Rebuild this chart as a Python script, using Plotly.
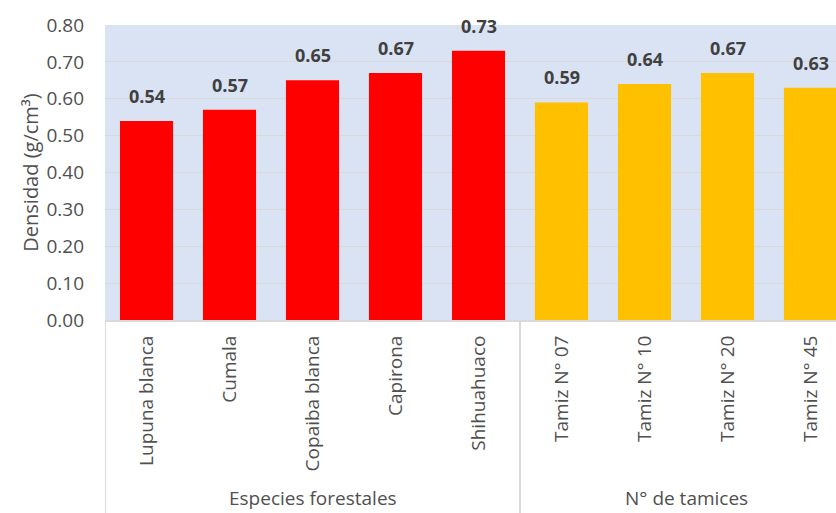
import plotly.graph_objects as go

categories = ["Lupuna blanca", "Cumala", "Copaiba blanca", "Capirona", "Shihuahuaco",
              "Tamiz N° 07", "Tamiz N° 10", "Tamiz N° 20", "Tamiz N° 45"]
values = [0.54, 0.57, 0.65, 0.67, 0.73, 0.59, 0.64, 0.67, 0.63]
groups = ["Especies forestales"] * 5 + ["N° de tamices"] * 4
group_names = ["Especies forestales", "N° de tamices"]
group_colors = {"Especies forestales": "#FF0000", "N° de tamices": "#FFC000"}
y_ticks = [0.0, 0.1, 0.2, 0.3, 0.4, 0.5, 0.6, 0.7, 0.8]
y_title = "Densidad (g/cm³)"

FONT = "Open Sans, Liberation Sans, sans-serif"
TXT = "#505050"
W, H = 836, 513
ML, MT, MB = 105, 25, 193
PH = H - MT - MB

colors = [group_colors[g] for g in groups]

fig = go.Figure()
fig.add_trace(go.Bar(
    x=list(range(len(categories))), y=values,
    marker=dict(color=colors, line=dict(width=0)),
    hoverinfo="skip",
))

# value labels
for i, v in enumerate(values):
    fig.add_annotation(x=i, y=v, xref="x", yref="y", text=f"{v:.2f}",
                       showarrow=False, yanchor="bottom", yshift=11,
                       font=dict(family=FONT, size=18, color="#404040", weight="bold"))

# group labels and separators
n = len(categories)
start = 0
bounds = [-0.5]
for g in group_names:
    cnt = groups.count(g)
    center = start + (cnt - 1) / 2
    fig.add_annotation(x=center, y=(-(498 - (MT + PH))) / PH, xref="x", yref="paper",
                       text=g, showarrow=False, yanchor="middle",
                       font=dict(family=FONT, size=19, color=TXT))
    start += cnt
    bounds.append(start - 0.5)
for b in bounds:
    fig.add_shape(type="line", xref="x", yref="paper", x0=b, x1=b, y0=0, y1=-MB / PH,
                  line=dict(color="#D9D9D9", width=2))

n_visible_right = (W - ML) / 83.0 - 0.5
fig.update_layout(
    width=W, height=H,
    margin=dict(l=ML, r=0, t=MT, b=MB, pad=0),
    paper_bgcolor="white", plot_bgcolor="#DAE3F3",
    bargap=0.36, showlegend=False,
    font=dict(family=FONT, size=20, color=TXT),
)
fig.update_xaxes(
    tickmode="array", tickvals=list(range(n)), ticktext=categories,
    tickangle=-90, range=[-0.5, n_visible_right],
    showline=True, linecolor="#D9D9D9", linewidth=2,
    showgrid=False, ticks="", ticklabelstandoff=6,
    tickfont=dict(family=FONT, size=19, color=TXT),
)
fig.update_yaxes(
    range=[0, 0.8], tickmode="array", tickvals=y_ticks,
    ticktext=[f"{t:.2f}" for t in y_ticks],
    showgrid=True, gridcolor="#D9D9D9", gridwidth=1,
    zeroline=False, showline=False, ticks="", ticklabelstandoff=20,
    tickfont=dict(family=FONT, size=19, color=TXT),
    title=dict(text=y_title, standoff=2, font=dict(family=FONT, size=20, color=TXT)),
)

fig.write_html("out.html")
